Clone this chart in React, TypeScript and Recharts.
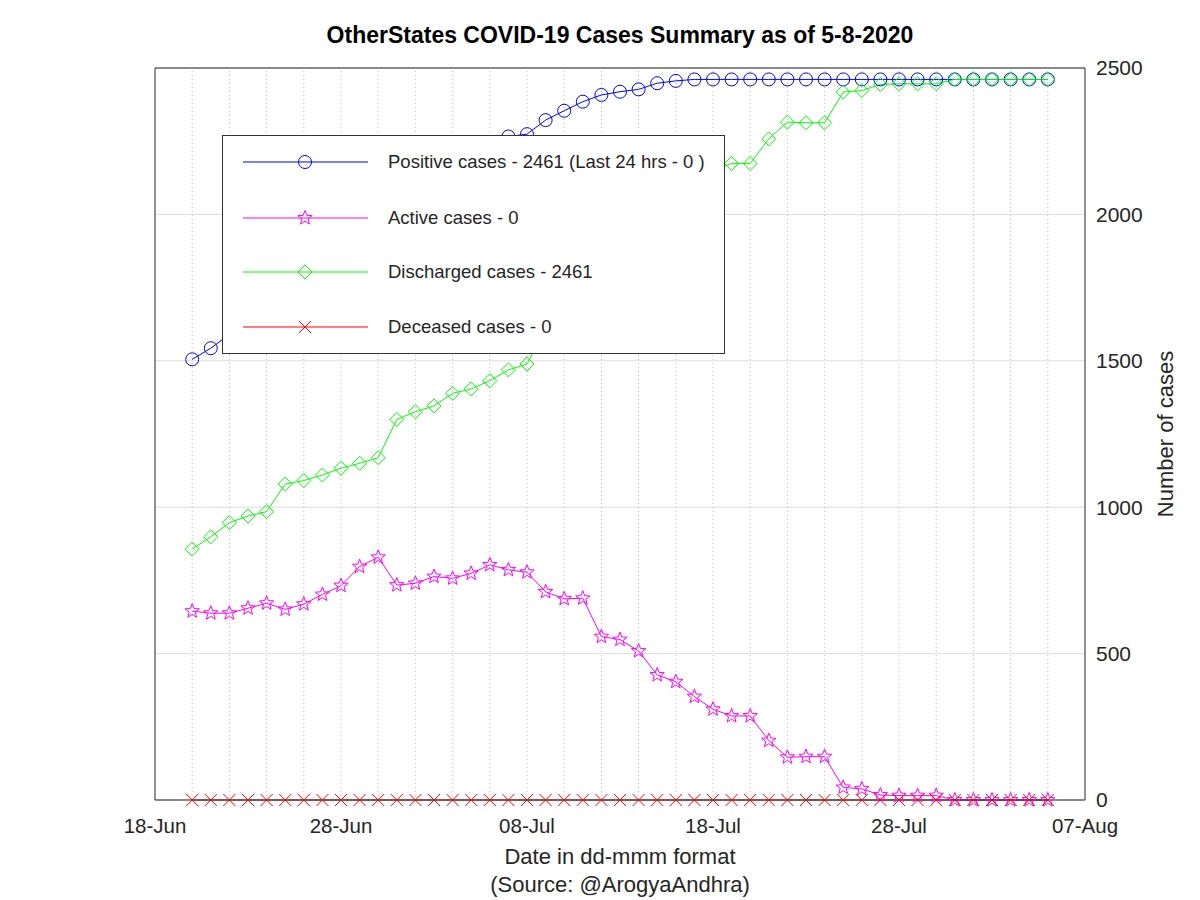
import React from 'react';
import { LineChart, Line, XAxis, YAxis, CartesianGrid, ReferenceLine, Legend, Label } from 'recharts';

const dates = [
  '20-Jun', '21-Jun', '22-Jun', '23-Jun', '24-Jun', '25-Jun', '26-Jun', '27-Jun', '28-Jun', '29-Jun', '30-Jun',
  '01-Jul', '02-Jul', '03-Jul', '04-Jul', '05-Jul', '06-Jul', '07-Jul', '08-Jul', '09-Jul', '10-Jul',
  '11-Jul', '12-Jul', '13-Jul', '14-Jul', '15-Jul', '16-Jul', '17-Jul', '18-Jul', '19-Jul', '20-Jul',
  '21-Jul', '22-Jul', '23-Jul', '24-Jul', '25-Jul', '26-Jul', '27-Jul', '28-Jul', '29-Jul', '30-Jul', '31-Jul',
  '01-Aug', '02-Aug', '03-Aug', '04-Aug', '05-Aug',
];

const positive = [
  1505, 1543, 1590, 1630, 1662, 1735, 1765, 1817, 1870, 1952, 2003,
  2039, 2071, 2114, 2151, 2183, 2240, 2266, 2274, 2322, 2354,
  2385, 2408, 2419, 2427, 2448, 2456, 2461, 2461, 2461, 2461,
  2461, 2461, 2461, 2461, 2461, 2461, 2461, 2461, 2461, 2461, 2461,
  2461, 2461, 2461, 2461, 2461,
];

const active = [
  645, 638, 638, 655, 672, 651, 669, 702, 732, 797, 829,
  734, 740, 763, 757, 774, 803, 786, 778, 711, 687,
  689, 558, 548, 509, 427, 404, 353, 310, 287, 287,
  203, 146, 148, 148, 43, 38, 17, 15, 15, 15, 0,
  0, 0, 0, 0, 0,
];

const discharged = [
  857, 899, 947, 970, 985, 1079, 1091, 1110, 1133, 1150, 1169,
  1300, 1326, 1346, 1389, 1404, 1432, 1469, 1489, 1611, 1667,
  1696, 1850, 1871, 1918, 2021, 2052, 2108, 2151, 2174, 2174,
  2258, 2315, 2313, 2313, 2418, 2423, 2444, 2446, 2446, 2446, 2461,
  2461, 2461, 2461, 2461, 2461,
];

const deceased = [
  0, 0, 0, 0, 0, 0, 0, 0, 0, 0, 0,
  0, 0, 0, 0, 0, 0, 0, 0, 0, 0,
  0, 0, 0, 0, 0, 0, 0, 0, 0, 0,
  0, 0, 0, 0, 0, 0, 0, 0, 0, 0, 0,
  0, 0, 0, 0, 0,
];

const xTickLabels = ['18-Jun', '28-Jun', '08-Jul', '18-Jul', '28-Jul', '07-Aug'];
const yTicks = [0, 500, 1000, 1500, 2000, 2500];

// days counted from 18-Jun
const monthOffset: Record<string, number> = { Jun: 0, Jul: 30, Aug: 61 };
const toDay = (s: string) => {
  const [d, m] = s.split('-');
  return Number(d) + monthOffset[m] - 18;
};

const xTicks = xTickLabels.map(toDay);
const gridDays: number[] = [];
for (let d = 2; d < 50; d += 2) gridDays.push(d);

const data = dates.map((d, i) => ({
  day: toDay(d),
  positive: positive[i],
  active: active[i],
  discharged: discharged[i],
  deceased: deceased[i],
}));

const BLUE = '#0000ff';
const MAGENTA = '#ff00ff';
const GREEN = '#00ff00';
const RED = '#ff0000';
const FONT = '"Liberation Sans", Arial, sans-serif';
const TEXT = '#262626';
const FRAME = '#262626';

const starPoints = (cx: number, cy: number, ro: number, ri: number) => {
  const pts: string[] = [];
  for (let k = 0; k < 10; k++) {
    const a = ((-90 + k * 36) * Math.PI) / 180;
    const r = k % 2 === 0 ? ro : ri;
    pts.push(`${cx + r * Math.cos(a)},${cy + r * Math.sin(a)}`);
  }
  return pts.join(' ');
};

function Marker({ shape, cx, cy, color }: { shape: string; cx: number; cy: number; color: string }) {
  if (shape === 'circle') return <circle cx={cx} cy={cy} r={6.5} fill="none" stroke={color} strokeWidth={1} />;
  if (shape === 'star') return <polygon points={starPoints(cx, cy, 7.5, 3.2)} fill="none" stroke={color} strokeWidth={1} />;
  if (shape === 'diamond')
    return (
      <polygon
        points={`${cx},${cy - 7} ${cx + 7},${cy} ${cx},${cy + 7} ${cx - 7},${cy}`}
        fill="none"
        stroke={color}
        strokeWidth={1}
      />
    );
  return (
    <g stroke={color} strokeWidth={1}>
      <line x1={cx - 6} y1={cy - 6} x2={cx + 6} y2={cy + 6} />
      <line x1={cx - 6} y1={cy + 6} x2={cx + 6} y2={cy - 6} />
    </g>
  );
}

const makeDot = (shape: string, color: string) => (p: any) => {
  if (p.cx == null || p.cy == null) return <g key={`n-${p.index}`} />;
  return (
    <g key={`${shape}-${p.index}`}>
      <Marker shape={shape} cx={p.cx} cy={p.cy} color={color} />
    </g>
  );
};

const series = [
  { key: 'positive', name: 'Positive cases - 2461 (Last 24 hrs - 0 )', color: BLUE, shape: 'circle' },
  { key: 'active', name: 'Active cases - 0', color: MAGENTA, shape: 'star' },
  { key: 'discharged', name: 'Discharged cases - 2461', color: GREEN, shape: 'diamond' },
  { key: 'deceased', name: 'Deceased cases - 0', color: RED, shape: 'cross' },
];

function LegendBox() {
  const rows = [27, 83, 137, 192];
  return (
    <svg width={503} height={219} style={{ display: 'block' }}>
      <rect x={0.5} y={0.5} width={502} height={218} fill="#ffffff" stroke="#333333" strokeWidth={1} />
      {series.map((s, i) => (
        <g key={s.key}>
          <line x1={21} x2={146} y1={rows[i]} y2={rows[i]} stroke={s.color} strokeWidth={1} />
          <Marker shape={s.shape} cx={83} cy={rows[i]} color={s.color} />
          <text x={166} y={rows[i]} dy="0.35em" fontSize={18.5} fontFamily={FONT} fill={TEXT}>
            {s.name}
          </text>
        </g>
      ))}
    </svg>
  );
}

export default function App() {
  return (
    <div style={{ position: 'relative', width: 1200, height: 900, background: '#fff', fontFamily: FONT }}>
      <style>{'body{margin:0}'}</style>

      {/* Title */}
      <div
        style={{
          position: 'absolute', left: 155, width: 930, top: 20, textAlign: 'center',
          fontSize: 23, fontWeight: 'bold', color: '#000', lineHeight: '30px',
        }}
      >
        OtherStates COVID-19 Cases Summary as of 5-8-2020
      </div>

      <LineChart width={1200} height={900} data={data} margin={{ top: 68, right: 55, bottom: 70, left: 155 }}>
        <CartesianGrid xAxisId="b" yAxisId="r" vertical={false} stroke="#dddddd" strokeWidth={1} />
        {gridDays.map((d) => (
          <ReferenceLine key={d} x={d} xAxisId="b" yAxisId="r" stroke="#bdbdbd" strokeDasharray="1 3" strokeWidth={1} />
        ))}

        <XAxis
          xAxisId="b"
          dataKey="day"
          type="number"
          domain={[0, 50]}
          ticks={xTicks}
          tickFormatter={(v: number) => xTickLabels[xTicks.indexOf(v)]}
          tickLine={false}
          tickSize={8}
          tickMargin={10}
          height={30}
          axisLine={{ stroke: FRAME }}
          tick={{ fontSize: 20.5, fill: TEXT, fontFamily: FONT }}
        />
        <XAxis xAxisId="bm" dataKey="day" type="number" domain={[0, 50]} ticks={xTicks} mirror tick={false}
          tickSize={9} axisLine={false} tickLine={{ stroke: FRAME }} height={30} />
        <XAxis xAxisId="t" orientation="top" dataKey="day" type="number" domain={[0, 50]} ticks={xTicks} mirror
          tick={false} tickSize={9} axisLine={{ stroke: FRAME }} tickLine={{ stroke: FRAME }} height={30} />

        <YAxis
          yAxisId="r"
          orientation="right"
          type="number"
          domain={[0, 2500]}
          ticks={yTicks}
          width={60}
          tickLine={false}
          tickSize={6}
          tickMargin={5}
          axisLine={{ stroke: FRAME }}
          tick={{ fontSize: 21, fill: TEXT, fontFamily: FONT, textAnchor: 'start' }}
        >
          <Label
            value="Number of cases"
            angle={-90}
            position="right"
            offset={20}
            style={{ fontSize: 22, fill: TEXT, fontFamily: FONT, textAnchor: 'middle' }}
          />
        </YAxis>
        <YAxis yAxisId="rm" orientation="right" domain={[0, 2500]} ticks={yTicks} mirror tick={false}
          tickSize={9} axisLine={false} tickLine={{ stroke: FRAME }} width={60} />
        <YAxis yAxisId="l" orientation="left" domain={[0, 2500]} ticks={yTicks} mirror tick={false}
          tickSize={9} axisLine={{ stroke: FRAME }} tickLine={{ stroke: FRAME }} width={60} />

        {series.map((s) => (
          <Line
            key={s.key}
            xAxisId="b"
            yAxisId="r"
            type="linear"
            dataKey={s.key}
            name={s.name}
            stroke={s.color}
            strokeWidth={1}
            dot={makeDot(s.shape, s.color)}
            activeDot={false}
            isAnimationActive={false}
          />
        ))}

        <Legend
          layout="horizontal"
          verticalAlign="middle"
          align="center"
          wrapperStyle={{ left: 222, top: 135, width: 503, height: 219, zIndex: 5 }}
          content={() => <LegendBox />}
        />
      </LineChart>

      {/* X axis title */}
      <div style={{ position: 'absolute', left: 155, width: 930, top: 843, textAlign: 'center', fontSize: 22, color: TEXT, lineHeight: '28px' }}>
        Date in dd-mmm format
        <br />
        (Source: @ArogyaAndhra)
      </div>
    </div>
  );
}
